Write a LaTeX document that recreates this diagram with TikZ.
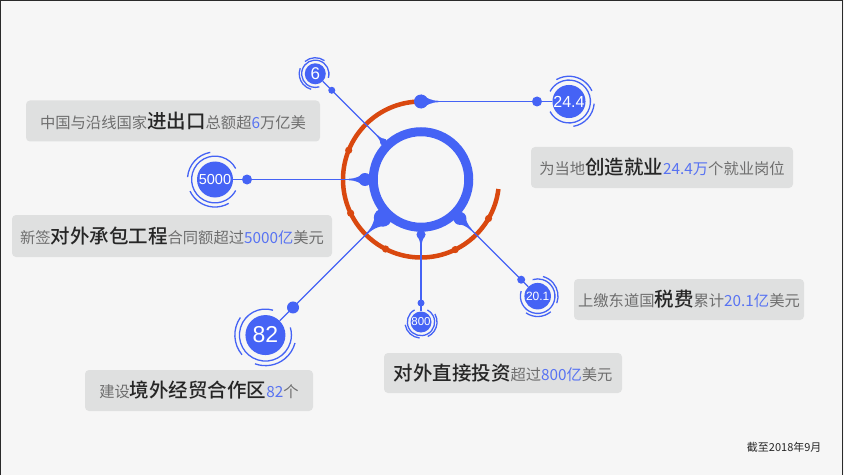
\documentclass[tikz,border=0pt]{standalone}
\usepackage{fontspec}
\setmainfont{Liberation Sans}
\newfontfamily\cjk{Noto Sans CJK SC}
\newfontfamily\cjkm{Noto Sans CJK SC Medium}
\usetikzlibrary{calc}
\definecolor{bl}{HTML}{4563F5}
\definecolor{org}{HTML}{D9480F}
\definecolor{boxc}{HTML}{DFE0E0}
\definecolor{txtg}{HTML}{6E6E6E}
\definecolor{txtd}{HTML}{262626}
\definecolor{numb}{HTML}{5873F2}
\definecolor{bgc}{HTML}{F6F6F6}
\definecolor{framec}{HTML}{2A2A2A}
\newcommand\numf[1]{\fontsize{#1}{#1}\selectfont}
\newcommand\lblB[1]{{\cjkm\color{txtd}\fontsize{19.5}{20}\selectfont #1}}
\newcommand\lblN[1]{{\color{numb}#1}}
\newcommand\numdeco[3]{%
  \pgfmathsetmacro\rA{#2*1.3}\pgfmathsetmacro\rB{#2*1.53}%
  \pgfmathsetmacro\aS{#3+28}\pgfmathsetmacro\aE{#3+332}%
  \draw[ring] ($(#1.center)+(\aS:\rA pt)$) arc[start angle=\aS, end angle=\aE, radius=\rA pt];
  \pgfmathsetmacro\bS{#3+100}\pgfmathsetmacro\bE{#3+175}%
  \draw[ring] ($(#1.center)+(\bS:\rB pt)$) arc[start angle=\bS, end angle=\bE, radius=\rB pt];
  \pgfmathsetmacro\cS{#3+205}\pgfmathsetmacro\cE{#3+300}%
  \draw[ring] ($(#1.center)+(\cS:\rB pt)$) arc[start angle=\cS, end angle=\cE, radius=\rB pt];
}
\newcommand\blobat[3]{%
  \begin{scope}[shift={(#1)}, rotate=#3]
    \fill[bl] (0,0) circle (#2pt);
    \fill[bl] (0,#2) .. controls (0.9*#2,0.5*#2) and (1.4*#2,0.8) .. (2.5*#2,0.7)
      -- (2.5*#2,-0.7) .. controls (1.4*#2,-0.8) and (0.9*#2,-0.5*#2) .. (0,-#2) -- cycle;
  \end{scope}}
\begin{document}
\begin{tikzpicture}[x=1pt,y=1pt,
  conn/.style={bl, line width=1.2pt},
  ring/.style={bl, line width=1.3pt},
  numc/.style={circle, fill=bl, inner sep=0pt, text=white},
  lbl/.style={fill=boxc, rounded corners=4pt, inner sep=0pt, text=txtg,
    font=\cjk\fontsize{15.3}{16}\selectfont}]
\useasboundingbox (0,0) rectangle (844,475);
\fill[bgc] (0,0) rectangle (844,475);
\draw[framec, line width=1.2pt] (0.6,0) -- (0.6,474.4) -- (842.2,474.4) -- (842.2,0);

\coordinate (C) at (421,295.5);
% orange arc
\draw[org, line width=4.5pt] ($(C)+(90:78)$) arc[start angle=90, end angle=353, radius=78pt];
\foreach \a in {158,205.6,243,296,330} \fill[org] ($(C)+(\a:78)$) circle (3.6pt);

% number circles
\node[numc, minimum size=21pt, font=\numf{17}] (n6) at ($(C)+(135:149.5)$) {6};
\node[numc, minimum size=36pt, font=\numf{14.5}] (n5000) at ($(C)+(180:206)$) {5000};
\node[numc, minimum size=33pt, font=\numf{16}] (n24) at (569,373.5) {24.4};
\node[numc, minimum size=40pt, font=\numf{23}] (n82) at ($(C)+(225:220)$) {82};
\node[numc, minimum size=21pt, font=\numf{11.5}] (n800) at ($(C)+(270:142.5)$) {800};
\node[numc, minimum size=26.5pt, font=\numf{12}] (n20) at ($(C)+(-45:165)$) {20.1};

% blob coordinates
\coordinate (b6) at ($(C)+(135:53)$);
\coordinate (b5000) at ($(C)+(180:56)$);
\coordinate (b82) at ($(C)+(225:54)$);
\coordinate (b800) at ($(C)+(270:55)$);
\coordinate (b20) at ($(C)+(315:55)$);
\coordinate (tb) at ($(C)+(90:78)$);

% connectors
\draw[conn] (b6) -- (n6);
\draw[conn] (b5000) -- (n5000);
\draw[conn] (b82) -- (n82);
\draw[conn] (b800) -- (n800);
\draw[conn] (b20) -- (n20);
\draw[conn] (tb) -- (n24);

% blue ring
\draw[bl, line width=9pt] (C) circle (47.75pt);
\blobat{b6}{3.5}{135}
\blobat{b5000}{6.5}{180}
\blobat{b82}{9}{225}
\blobat{b800}{4.5}{270}
\blobat{b20}{6.5}{315}
\blobat{tb}{7}{0}

% dots
\coordinate (d6) at ($(n6)!23.3pt!(C)$);
\coordinate (d5000) at ($(n5000)!32pt!(C)$);
\coordinate (d82) at ($(n82)!39pt!(C)$);
\coordinate (d800) at ($(n800)!19pt!(C)$);
\coordinate (d20) at ($(n20)!23.3pt!(C)$);
\coordinate (d24) at ($(n24)!32pt!(tb)$);
\fill[bl] (d6) circle (3.5pt);
\fill[bl] (d5000) circle (5pt);
\fill[bl] (d82) circle (6pt);
\fill[bl] (d800) circle (3.5pt);
\fill[bl] (d20) circle (4pt);
\fill[bl] (d24) circle (5pt);

% rings round numbers
\numdeco{n6}{10.5}{-45}
\numdeco{n5000}{18}{0}
\numdeco{n24}{16.5}{180}
\numdeco{n82}{20}{45}
\numdeco{n800}{10.5}{90}
\numdeco{n20}{13.3}{135}

% labels
\node[lbl, minimum width=294pt, minimum height=41pt] (la) at (173,354)
  {中国与沿线国家\lblB{进出口}总额超\lblN{6}万亿美};
\node[lbl, minimum width=320pt, minimum height=42pt] (lb) at (172,239)
  {新签\lblB{对外承包工程}合同额超过\lblN{5000亿}美元};
\node[lbl, minimum width=262pt, minimum height=41pt] (lc) at (662,307.5)
  {为当地\lblB{创造就业}\lblN{24.4万}个就业岗位};
\node[lbl, minimum width=230pt, minimum height=41pt] (ld) at (689,175.5)
  {上缴东道国\lblB{税费}累计\lblN{20.1亿}美元};
\node[lbl, minimum width=238pt, minimum height=40pt] (le) at (503,102)
  {\lblB{对外直接投资}超过\lblN{800亿}美元};
\node[lbl, minimum width=228pt, minimum height=41pt] (lf) at (199,84.5)
  {建设\lblB{境外经贸合作区}\lblN{82}个};

\node[anchor=east, text=txtd, font=\cjk\fontsize{11}{11}\selectfont] (ft) at (825,28) {截至2018年9月};
\end{tikzpicture}
\end{document}
